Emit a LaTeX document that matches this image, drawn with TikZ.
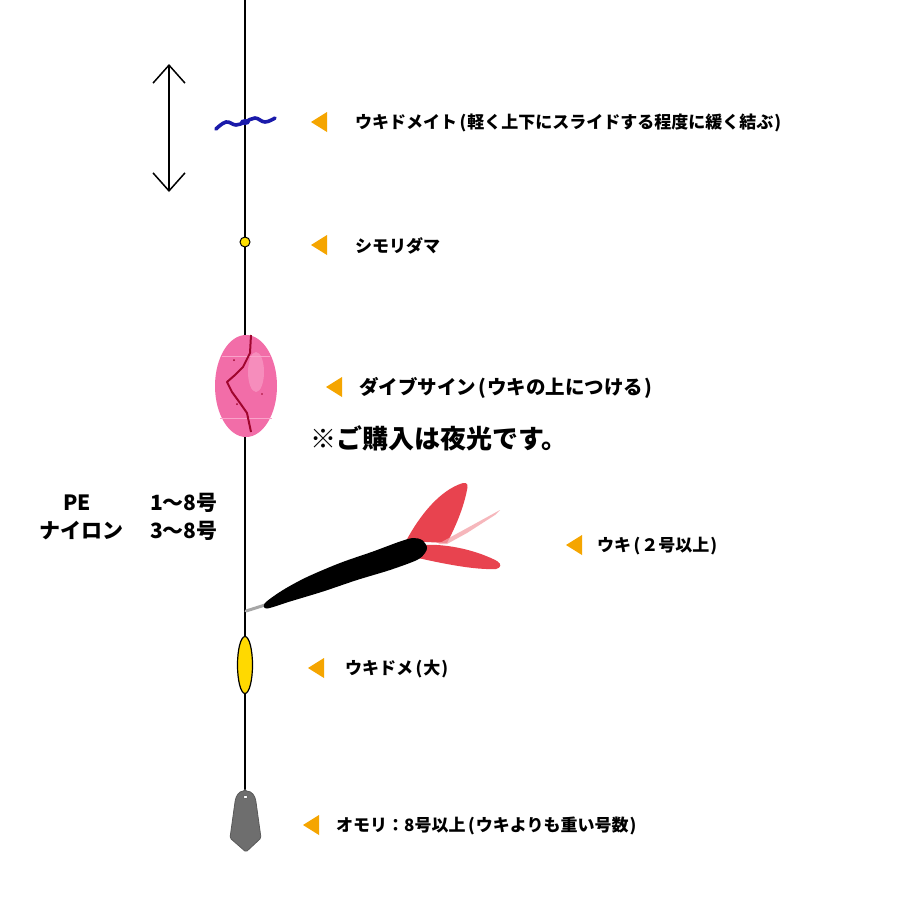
\documentclass[tikz,border=0pt]{standalone}
\usepackage{fontspec}
\setmainfont{Noto Sans CJK JP}
\usetikzlibrary{arrows.meta,shapes.geometric}
\definecolor{tri}{HTML}{F5A500}
\definecolor{beady}{HTML}{FFE000}
\definecolor{stopy}{HTML}{FFD900}
\definecolor{pinkb}{HTML}{F26DA8}
\definecolor{pinkl}{HTML}{F9A3CA}
\definecolor{crack}{HTML}{A0062E}
\definecolor{finred}{HTML}{E8434F}
\definecolor{finlite}{HTML}{F4A0A6}
\definecolor{knotblue}{HTML}{1A1AAA}
\definecolor{weightg}{HTML}{6E6E6E}
\newcommand{\LP}{\kern2.5pt(\kern1pt}
\newcommand{\RP}{\kern1pt)}
\tikzset{
  lbl/.style={anchor=west, inner sep=0pt, font=\fontsize{17}{17}\selectfont\bfseries},
  pointer/.style={fill=tri, draw=none},
  mainline/.style={line width=2.2pt, black},
  side/.style={anchor=west, inner sep=0pt, font=\fontsize{21}{21}\selectfont\bfseries},
}
\begin{document}
\begin{tikzpicture}[x=1pt,y=-1pt]
\useasboundingbox[fill=white] (0,0) rectangle (900,900);
% main line
\coordinate (top) at (245,0);
\coordinate (bottom) at (245,795);
\draw[mainline] (top) -- (bottom);
% slide range arrow
\coordinate (arrT) at (169,64);
\coordinate (arrB) at (169,192);
\draw[line width=1.5pt, {Straight Barb[length=18pt,width=32pt]}-{Straight Barb[length=18pt,width=32pt]}] (arrT) -- (arrB);
% knot
\draw[knotblue, line width=3.6pt, line cap=round] plot[smooth, tension=0.7] coordinates {(216,129) (226,122) (236,125) (245,122) (255,118) (265,122) (275,118)};
\fill[knotblue] (245,122) ellipse [x radius=5, y radius=3];
% bead
\node[circle, draw=black, line width=1pt, fill=beady, minimum size=10pt, inner sep=0pt] (bead) at (245,242) {};
% dive sinker
\fill[pinkb] (246,386) ellipse [x radius=31, y radius=51];
\fill[pinkl, opacity=0.6] (256,372) ellipse [x radius=8, y radius=20];
\draw[pinkl, line width=0.8pt] (222,356) -- (270,356);
\draw[pinkl, line width=0.8pt] (220,418) -- (272,418);
\draw[crack, line width=2pt, line join=round] (251,335) -- (250,353) -- (243,367) -- (235,375) -- (227,382) -- (232,392) -- (240,403) -- (247,413) -- (251,432);
\fill[crack] (234,360) circle (1pt) (237,404) circle (1pt) (262,394) circle (0.8pt);
% float (dart)
\draw[gray!70, line width=3pt, line cap=round] (246,611) -- (265,605);
\fill[finred] (406,541) .. controls (420,515) and (440,490) .. (463,483) .. controls (468,482) and (468,486) .. (467,490) .. controls (464,505) and (458,522) .. (447,543) -- cycle;
\fill[finlite, opacity=0.75] (438,544) -- (500,510) -- (495,515) -- (467,533) -- (447,544) -- cycle;
\fill[finred] (420,545) .. controls (450,543) and (480,552) .. (497,561) .. controls (502,564) and (501,568) .. (496,569) .. controls (475,570) and (445,564) .. (418,558) -- cycle;
\fill[black] plot[smooth cycle, tension=0.5] coordinates {(265,603) (283,590) (307,577) (340,563) (373,551.5) (400,541.5) (413,538) (422,540) (427,547) (425,553) (417,560) (390,570) (357,580) (323,591.5) (290,601.5) (267,608.5)};
% float stopper (large)
\node[ellipse, draw=black, line width=1.2pt, fill=stopy, minimum width=15pt, minimum height=57pt, inner sep=0pt] (stopper) at (245,665) {};
% weight
\filldraw[fill=weightg, draw=black!65, line width=0.8pt, rounded corners=1.5pt] (245,791) .. controls (252,791) and (255,796) .. (256,802) -- (261,838) -- (246,852) -- (230,838) -- (235,802) .. controls (236,796) and (239,791) .. (245,791) -- cycle;
\filldraw[fill=white, draw=black!70, line width=0.5pt] (245.5,797) ellipse [x radius=2.2, y radius=1.6];
% pointers and labels
\fill[pointer] (311,122) -- (327,112) -- (327,132) -- cycle;
\node[lbl] (l1) at (355,123) {ウキドメイト\LP 軽く上下にスライドする程度に緩く結ぶ\RP};
\fill[pointer] (311,245) -- (327,235) -- (327,255) -- cycle;
\node[lbl] (l2) at (355,246) {シモリダマ};
\fill[pointer] (326,387) -- (342,377) -- (342,397) -- cycle;
\node[lbl, font=\fontsize{19.5}{19.5}\selectfont\bfseries] (l3) at (359,388) {ダイブサイン\LP ウキの上につける\RP};
\node[anchor=west, inner sep=0pt, font=\fontsize{26}{26}\selectfont\bfseries] (note) at (310,438) {※ご購入は夜光です。};
\node[side] (pe) at (63,503) {PE};
\node[side] (pen) at (150,503) {1〜8号};
\node[side] (ny) at (39,531) {ナイロン};
\node[side] (nyn) at (150,531) {3〜8号};
\fill[pointer] (566,545) -- (582,535) -- (582,555) -- cycle;
\node[lbl] (l4) at (597,546) {ウキ\LP ２号以上\RP};
\fill[pointer] (308,668) -- (324,658) -- (324,678) -- cycle;
\node[lbl] (l5) at (345,669) {ウキドメ\LP 大\RP};
\fill[pointer] (303,825) -- (319,815) -- (319,835) -- cycle;
\node[lbl] (l6) at (336,826) {オモリ：8号以上\LP ウキよりも重い号数\RP};
\end{tikzpicture}
\end{document}
